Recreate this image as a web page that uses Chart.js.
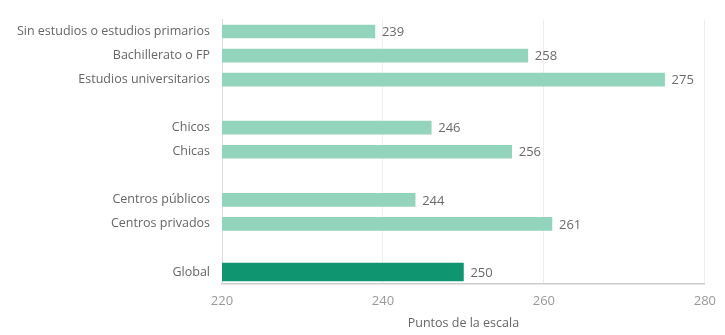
<!DOCTYPE html>
<html>
<head>
<meta charset="utf-8">
<script src="https://cdn.jsdelivr.net/npm/chart.js@4/dist/chart.umd.min.js"></script>
<style>
  html, body { margin: 0; padding: 0; background: #fff; }
  #wrap { width: 725px; height: 335px; position: relative; }
</style>
</head>
<body>
<div id="wrap"><canvas id="myChart"></canvas></div>
<script>
// categories (empty strings are the gaps between groups)
const categories = [
  'Sin estudios o estudios primarios',
  'Bachillerato o FP',
  'Estudios universitarios',
  '',
  'Chicos',
  'Chicas',
  '',
  'Centros públicos',
  'Centros privados',
  '',
  'Global'
];
const groupValues = [239, 258, 275, null, 246, 256, null, 244, 261, null, null];
const globalValues = [null, null, null, null, null, null, null, null, null, null, 250];
const xTicks = [220, 240, 260, 280];
const axisTitle = 'Puntos de la escala';

const FONT = "'Open Sans', 'Liberation Sans', sans-serif";

// writes the value just right of each bar
const valueLabels = {
  id: 'valueLabels',
  afterDatasetsDraw(chart) {
    const ctx = chart.ctx;
    ctx.save();
    ctx.font = '13px ' + FONT;
    ctx.fillStyle = '#6a6a6a';
    ctx.textAlign = 'left';
    ctx.textBaseline = 'middle';
    chart.data.datasets.forEach((ds, i) => {
      const meta = chart.getDatasetMeta(i);
      meta.data.forEach((bar, j) => {
        const v = ds.data[j];
        if (v === null || v === undefined) return;
        ctx.fillText(String(v), bar.x + 7, bar.y + 1);
      });
    });
    ctx.restore();
  }
};

let ctx = document.getElementById('myChart');
let myChart = new Chart(ctx, {
  type: 'bar',
  data: {
    labels: categories,
    datasets: [
      {
        label: 'grupos',
        data: groupValues,
        backgroundColor: '#93d4bd',
        barThickness: 13
      },
      {
        label: 'global',
        data: globalValues,
        backgroundColor: '#0f9670',
        barThickness: 18
      }
    ]
  },
  options: {
    indexAxis: 'y',
    responsive: true,
    maintainAspectRatio: false,
    animation: false,
    grouped: false,
    layout: { padding: { top: 17, right: 17, left: 0, bottom: 0 } },
    plugins: {
      legend: { display: false },
      tooltip: { enabled: false }
    },
    scales: {
      x: {
        type: 'linear',
        min: 220,
        max: 280,
        afterBuildTicks(scale) {
          scale.ticks = xTicks.map(v => ({ value: v }));
        },
        afterFit(scale) { scale.height = 51; },
        grid: { color: '#eeeeee', drawTicks: false, lineWidth: 1 },
        border: { color: '#cccccc', width: 1.5 },
        ticks: {
          padding: 9,
          color: '#999',
          font: { family: FONT, size: 13 }
        },
        title: {
          display: true,
          text: axisTitle,
          color: '#666',
          padding: { top: 3 },
          font: { family: FONT, size: 12.5 }
        }
      },
      y: {
        afterFit(scale) { scale.width = 222; },
        grid: { display: false, drawTicks: false },
        border: { color: '#dddddd', width: 1 },
        ticks: {
          padding: 12,
          color: '#666',
          autoSkip: false,
          font: { family: FONT, size: 12.5 }
        }
      }
    }
  },
  plugins: [valueLabels]
});
</script>
</body>
</html>
